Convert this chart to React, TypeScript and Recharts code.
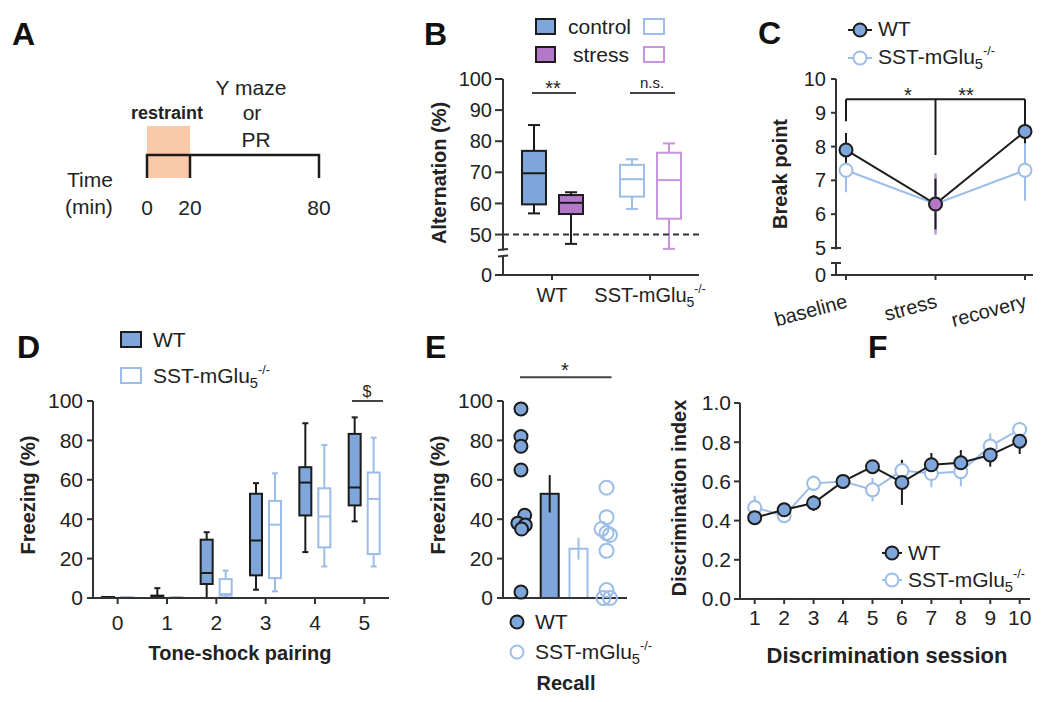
import React from 'react';
import {
  ComposedChart,
  LineChart,
  Line,
  Bar,
  Scatter,
  XAxis,
  YAxis,
  ReferenceLine,
  ReferenceArea,
  ErrorBar,
} from 'recharts';

const FONT = '"Liberation Sans", Arial, Helvetica, sans-serif';
const TEXT = '#222';
const AXIS = '#333';
const DARK = '#1c1c1c';
const BLUE = '#7ea6da';
const LIGHT = '#9cbde8';
const PURPLE = '#b478c8';
const LPURPLE = '#c994db';
const ORANGE = '#f9c9a8';

// A: protocol timeline (min)
const timeTicks = [0, 20, 80];
const restraint = [0, 20];
const TIMELINE_LEVEL = 0.44;

// B: Y maze alternation (%), box stats [min, q1, median, q3, max]
const genotypes = ['WT', 'SST'];
const altControl = [
  [56.8, 59.7, 69.7, 76.9, 85.2],
  [58.2, 62.2, 67.8, 72.4, 74.2],
];
const altStress = [
  [47.0, 56.6, 60.2, 62.7, 63.6],
  [45.4, 55.1, 67.5, 76.3, 79.3],
];
const altTicks = [37, 50, 60, 70, 80, 90, 100];

// C: PR break point
const conditions = ['baseline', 'stress', 'recovery'];
const bpWT = [7.9, 6.3, 8.45];
const bpWTErr = [0.5, 0.75, 0.35];
const bpSST = [7.3, 6.3, 7.3];
const bpSSTErr = [0.65, 0.9, 0.9];
const bpTicks = [4.2, 5, 6, 7, 8, 9, 10];

// D: freezing per tone-shock pairing, box stats
const pairings = ['0', '1', '2', '3', '4', '5'];
const frzWT = [
  [0, 0, 0.2, 0.5, 0.5],
  [0, 0, 0.6, 1.2, 5],
  [0, 7.1, 12.7, 29.6, 33.4],
  [4.2, 11.5, 29.2, 52.9, 58.3],
  [23.3, 41.9, 58.6, 66.4, 88.7],
  [38.9, 47.0, 56.1, 83.3, 91.7],
];
const frzSST = [
  [0, 0, 0.2, 0.4, 0.4],
  [0, 0, 0.2, 0.4, 0.4],
  [0, 1.2, 2.0, 9.6, 13.9],
  [3.4, 10.1, 37.2, 49.3, 63.3],
  [16.0, 25.7, 41.4, 55.7, 77.7],
  [16.0, 22.3, 50.3, 63.7, 81.4],
];
const pctTicks = [0, 20, 40, 60, 80, 100];

// E: recall freezing, individual animals + mean/sem
const recallWT = [96, 82, 77, 65, 42, 38, 37, 35, 3];
const recallWTx = [0.58, 0.58, 0.58, 0.58, 0.7, 0.48, 0.72, 0.6, 0.58];
const recallSST = [56, 41, 35, 33, 32, 24, 4, 0, 0];
const recallSSTx = [3.34, 3.34, 3.18, 3.34, 3.45, 3.34, 3.34, 3.24, 3.45];
const recallGroups = ['WT', 'SST'];
const recallMeans = [52.9, 25.0];
const recallSem = [9.5, 5.5];
const recallBarX = [1.52, 2.45];

// F: discrimination index per session
const sessions = [1, 2, 3, 4, 5, 6, 7, 8, 9, 10];
const diWT = [0.415, 0.455, 0.49, 0.6, 0.675, 0.595, 0.685, 0.695, 0.735, 0.805];
const diWTErr = [0.015, 0.015, 0.04, 0.02, 0.015, 0.115, 0.06, 0.065, 0.06, 0.065];
const diSST = [0.467, 0.425, 0.59, 0.6, 0.557, 0.655, 0.64, 0.65, 0.78, 0.865];
const diSSTErr = [0.06, 0.015, 0.04, 0.03, 0.06, 0.04, 0.07, 0.075, 0.065, 0.015];
const diTicks = [0, 0.2, 0.4, 0.6, 0.8, 1.0];

// timeline bracket: a drop line at every time point, joined along the top
const timePath: { x: number; y: number }[] = [];
timeTicks.forEach((t, i) => {
  if (i > 0) timePath.push({ x: t, y: TIMELINE_LEVEL });
  timePath.push({ x: t, y: 0 });
  timePath.push({ x: t, y: TIMELINE_LEVEL });
});

const altData = genotypes.map((g, i) => ({ g, control: altControl[i], stress: altStress[i] }));
const bpData = conditions.map((c, i) => ({
  c,
  wt: bpWT[i],
  wtErr: bpWTErr[i],
  sst: bpSST[i],
  sstErr: bpSSTErr[i],
  sstStress: c === 'stress' ? bpSST[i] : null,
  sstStressErr: c === 'stress' ? bpSSTErr[i] : null,
}));
const frzData = pairings.map((p, i) => ({ g: p, wt: frzWT[i], sst: frzSST[i] }));
const recallBars = recallGroups.map((g, i) => ({ g, x: recallBarX[i], mean: recallMeans[i], sem: recallSem[i] }));
const recallWTPts = recallWT.map((y, i) => ({ x: recallWTx[i], y }));
const recallSSTPts = recallSST.map((y, i) => ({ x: recallSSTx[i], y }));
const diData = sessions.map((s, i) => ({ s, wt: diWT[i], wtErr: diWTErr[i], sst: diSST[i], sstErr: diSSTErr[i] }));

const axisLine = { stroke: AXIS, strokeWidth: 2 };

type BoxStyle = { fill: string; stroke: string };

// box & whisker drawn inside the [min, max] range bar
const makeBox = (key: string, styles: Record<string, BoxStyle>, capRatio: number) => (props: any) => {
  const { x, y, width, height, payload } = props;
  const s = payload[key] as number[];
  const st = styles[payload.g] || styles.default;
  const top = Math.min(y, y + height);
  const k = Math.abs(height) / (s[4] - s[0]);
  const py = (v: number) => top + (s[4] - v) * k;
  const cx = x + width / 2;
  const cw = (width * capRatio) / 2;
  return (
    <g>
      <line x1={cx} x2={cx} y1={py(s[4])} y2={py(s[0])} stroke={st.stroke} strokeWidth={2} />
      <line x1={cx - cw} x2={cx + cw} y1={py(s[4])} y2={py(s[4])} stroke={st.stroke} strokeWidth={2} />
      <line x1={cx - cw} x2={cx + cw} y1={py(s[0])} y2={py(s[0])} stroke={st.stroke} strokeWidth={2} />
      <rect x={x} y={py(s[3])} width={width} height={py(s[1]) - py(s[3])} fill={st.fill} stroke={st.stroke} strokeWidth={2} />
      <line x1={x} x2={x + width} y1={py(s[2])} y2={py(s[2])} stroke={st.stroke} strokeWidth={2} />
    </g>
  );
};

const Geno = ({ size }: { size: number }) => (
  <>
    SST-mGlu
    <tspan fontSize={size * 0.7} dy={size * 0.25}>5</tspan>
    <tspan fontSize={size * 0.6} dy={-size * 0.7}>-/-</tspan>
  </>
);

const GenoTick = (props: any) => {
  const { x, y, payload } = props;
  return (
    <text x={x} y={y} dy={15} textAnchor="middle" fill={TEXT} fontSize={20}>
      {payload.value === 'WT' ? 'WT' : <Geno size={20} />}
    </text>
  );
};

const RotTick = (props: any) => {
  const { x, y, payload } = props;
  return (
    <text x={x - 4} y={y} dy={25} textAnchor="end" fill={TEXT} fontSize={20} transform={`rotate(-15, ${x}, ${y})`}>
      {payload.value}
    </text>
  );
};

const WTDot = (props: any) => {
  const { cx, cy, payload } = props;
  return <circle cx={cx} cy={cy} r={6.5} fill={payload.c === 'stress' ? PURPLE : BLUE} stroke={DARK} strokeWidth={2} />;
};

const FilledDot = (p: any) => <circle cx={p.cx} cy={p.cy} r={6.5} fill={BLUE} stroke={DARK} strokeWidth={2} />;
const OpenDot = (p: any) => <circle cx={p.cx} cy={p.cy} r={7} fill="none" stroke={LIGHT} strokeWidth={2} />;

const MeanShape = (props: any) => {
  const { x, y, width, height, payload } = props;
  const wt = payload.g === 'WT';
  const k = height / payload.mean;
  const cx = x + width / 2;
  const col = wt ? DARK : LIGHT;
  return (
    <g>
      <rect x={x} y={y} width={width} height={height} fill={wt ? BLUE : '#fff'} stroke={col} strokeWidth={2} />
      <line x1={cx} x2={cx} y1={y - payload.sem * k} y2={y + payload.sem * k} stroke={col} strokeWidth={2} />
    </g>
  );
};

const PanelA = () => (
  <div style={{ position: 'absolute', left: 100, top: 100 }}>
    <ComposedChart width={260} height={130} data={timePath} margin={{ top: 26, right: 41, bottom: 12, left: 47 }}>
      <XAxis
        type="number"
        dataKey="x"
        domain={[0, 80]}
        ticks={timeTicks}
        axisLine={false}
        tickLine={false}
        tickSize={0}
        tickMargin={22}
        height={40}
        interval={0}
        tick={{ fill: TEXT, fontSize: 21 }}
      />
      <YAxis hide type="number" domain={[0, 1]} />
      <ReferenceArea x1={restraint[0]} x2={restraint[1]} y1={0} y2={1} fill={ORANGE} fillOpacity={1} stroke="none" />
      <Line
        dataKey="y"
        stroke={DARK}
        strokeWidth={2.5}
        strokeLinejoin="miter"
        dot={false}
        activeDot={false}
        isAnimationActive={false}
      />
    </ComposedChart>
  </div>
);

const PanelB = () => (
  <div style={{ position: 'absolute', left: 380, top: 0 }}>
    <ComposedChart width={330} height={320} data={altData} margin={{ top: 79, right: 11, bottom: 15, left: 0 }} barGap={13} barSize={24}>
      <XAxis dataKey="g" tick={<GenoTick />} tickSize={5} tickMargin={7} height={30} axisLine={axisLine} tickLine={axisLine} interval={0} />
      <YAxis
        type="number"
        domain={[37, 100]}
        ticks={altTicks}
        tickFormatter={(v) => (v === 37 ? '0' : String(v))}
        width={123}
        tickSize={8}
        tickMargin={3}
        axisLine={axisLine}
        tickLine={axisLine}
        interval={0}
        tick={{ fill: TEXT, fontSize: 20 }}
        allowDataOverflow
      />
      <ReferenceLine y={50} stroke={AXIS} strokeWidth={2} strokeDasharray="6 4" />
      <Bar
        dataKey={(d: any) => [d.control[0], d.control[4]]}
        isAnimationActive={false}
        shape={makeBox('control', { WT: { fill: BLUE, stroke: DARK }, SST: { fill: '#fff', stroke: LIGHT } }, 0.5)}
      />
      <Bar
        dataKey={(d: any) => [d.stress[0], d.stress[4]]}
        isAnimationActive={false}
        shape={makeBox('stress', { WT: { fill: PURPLE, stroke: DARK }, SST: { fill: '#fff', stroke: LPURPLE } }, 0.5)}
      />
    </ComposedChart>
  </div>
);

const PanelC = () => (
  <div style={{ position: 'absolute', left: 700, top: 0 }}>
    <LineChart width={350} height={330} data={bpData} margin={{ top: 79, right: 17, bottom: 10, left: 0 }}>
      <XAxis
        dataKey="c"
        padding={{ left: 10, right: 8 }}
        tick={<RotTick />}
        tickSize={5}
        tickMargin={2}
        height={45}
        axisLine={axisLine}
        tickLine={axisLine}
        interval={0}
      />
      <YAxis
        type="number"
        domain={[4.2, 10]}
        ticks={bpTicks}
        tickFormatter={(v) => (v === 4.2 ? '0' : String(v))}
        width={136}
        tickSize={5}
        tickMargin={5}
        axisLine={axisLine}
        tickLine={axisLine}
        interval={0}
        tick={{ fill: TEXT, fontSize: 20 }}
        allowDataOverflow
      />
      <ReferenceLine segment={[{ x: 'baseline', y: 9.4 }, { x: 'recovery', y: 9.4 }]} stroke={DARK} strokeWidth={2} />
      <ReferenceLine segment={[{ x: 'baseline', y: 9.4 }, { x: 'baseline', y: 8.75 }]} stroke={DARK} strokeWidth={2} />
      <ReferenceLine segment={[{ x: 'recovery', y: 9.4 }, { x: 'recovery', y: 8.75 }]} stroke={DARK} strokeWidth={2} />
      <ReferenceLine segment={[{ x: 'stress', y: 9.4 }, { x: 'stress', y: 7.75 }]} stroke={DARK} strokeWidth={2} />
      <Line
        dataKey="sst"
        stroke={LIGHT}
        strokeWidth={2}
        isAnimationActive={false}
        dot={{ r: 6.5, fill: '#fff', stroke: LIGHT, strokeWidth: 2 }}
        activeDot={false}
      >
        <ErrorBar dataKey="sstErr" width={0} stroke={LIGHT} strokeWidth={2} direction="y" />
      </Line>
      <Line dataKey="sstStress" stroke="none" dot={false} activeDot={false} isAnimationActive={false}>
        <ErrorBar dataKey="sstStressErr" width={0} stroke={LPURPLE} strokeWidth={2} direction="y" />
      </Line>
      <Line dataKey="wt" stroke={DARK} strokeWidth={2} isAnimationActive={false} dot={<WTDot />} activeDot={false}>
        <ErrorBar dataKey="wtErr" width={0} stroke={DARK} strokeWidth={2} direction="y" />
      </Line>
    </LineChart>
  </div>
);

const PanelD = () => (
  <div style={{ position: 'absolute', left: 0, top: 330 }}>
    <ComposedChart width={400} height={372} data={frzData} margin={{ top: 71, right: 11, bottom: 64, left: 0 }} barGap={7} barSize={12}>
      <XAxis dataKey="g" tickSize={6} tickMargin={11} height={40} axisLine={axisLine} tickLine={axisLine} interval={0} tick={{ fill: TEXT, fontSize: 21 }} />
      <YAxis
        type="number"
        domain={[0, 100]}
        ticks={pctTicks}
        width={93}
        tickSize={6}
        tickMargin={4}
        axisLine={axisLine}
        tickLine={axisLine}
        interval={0}
        tick={{ fill: TEXT, fontSize: 21 }}
      />
      <Bar
        dataKey={(d: any) => [d.wt[0], d.wt[4]]}
        isAnimationActive={false}
        shape={makeBox('wt', { default: { fill: BLUE, stroke: DARK } }, 0.5)}
      />
      <Bar
        dataKey={(d: any) => [d.sst[0], d.sst[4]]}
        isAnimationActive={false}
        shape={makeBox('sst', { default: { fill: '#fff', stroke: LIGHT } }, 0.5)}
      />
    </ComposedChart>
  </div>
);

const PanelE = () => (
  <div style={{ position: 'absolute', left: 400, top: 330 }}>
    <ComposedChart width={250} height={372} data={recallBars} margin={{ top: 71, right: 23, bottom: 94, left: 0 }}>
      <XAxis type="number" dataKey="x" domain={[0, 4]} tick={false} tickLine={false} axisLine={axisLine} height={10} />
      <XAxis xAxisId="pts" type="number" dataKey="x" domain={[0, 4]} hide />
      <YAxis
        type="number"
        domain={[0, 100]}
        ticks={pctTicks}
        width={103}
        tickSize={6}
        tickMargin={4}
        axisLine={axisLine}
        tickLine={axisLine}
        interval={0}
        tick={{ fill: TEXT, fontSize: 21 }}
      />
      <ReferenceLine segment={[{ x: 0.55, y: 112 }, { x: 3.5, y: 112 }]} stroke="#444" strokeWidth={2} ifOverflow="visible" />
      <Bar dataKey="mean" barSize={18} isAnimationActive={false} shape={MeanShape} />
      <Scatter xAxisId="pts" data={recallWTPts} dataKey="y" isAnimationActive={false} shape={FilledDot} />
      <Scatter xAxisId="pts" data={recallSSTPts} dataKey="y" isAnimationActive={false} shape={OpenDot} />
    </ComposedChart>
  </div>
);

const PanelF = () => (
  <div style={{ position: 'absolute', left: 650, top: 330 }}>
    <LineChart width={400} height={372} data={diData} margin={{ top: 73, right: 20, bottom: 63, left: 0 }}>
      <XAxis
        type="number"
        dataKey="s"
        domain={[0.5, 10.35]}
        ticks={sessions}
        tickSize={5}
        tickMargin={6}
        height={40}
        axisLine={axisLine}
        tickLine={axisLine}
        interval={0}
        tick={{ fill: TEXT, fontSize: 21 }}
      />
      <YAxis
        type="number"
        domain={[0, 1]}
        ticks={diTicks}
        tickFormatter={(v) => Number(v).toFixed(1)}
        width={90}
        tickSize={6}
        tickMargin={3}
        axisLine={axisLine}
        tickLine={axisLine}
        interval={0}
        tick={{ fill: TEXT, fontSize: 21 }}
      />
      <Line
        dataKey="sst"
        stroke={LIGHT}
        strokeWidth={2}
        isAnimationActive={false}
        dot={{ r: 6.5, fill: '#fff', stroke: LIGHT, strokeWidth: 2 }}
        activeDot={false}
      >
        <ErrorBar dataKey="sstErr" width={0} stroke={LIGHT} strokeWidth={2} direction="y" />
      </Line>
      <Line
        dataKey="wt"
        stroke={DARK}
        strokeWidth={2}
        isAnimationActive={false}
        dot={{ r: 6.5, fill: BLUE, stroke: DARK, strokeWidth: 2 }}
        activeDot={false}
      >
        <ErrorBar dataKey="wtErr" width={0} stroke={DARK} strokeWidth={2} direction="y" />
      </Line>
    </LineChart>
  </div>
);

const VTitle = ({ x, y, children, size = 20 }: { x: number; y: number; children: React.ReactNode; size?: number }) => (
  <text x={x} y={y} transform={`rotate(-90, ${x}, ${y})`} textAnchor="middle" fontSize={size} fontWeight="bold" fill={TEXT}>
    {children}
  </text>
);

const Overlay = () => (
  <svg width={1050} height={702} style={{ position: 'absolute', left: 0, top: 0, pointerEvents: 'none' }}>
    <g fontSize={32} fontWeight="bold" fill="#111">
      <text x={12} y={45}>A</text>
      <text x={424} y={45}>B</text>
      <text x={758} y={44}>C</text>
      <text x={17} y={358}>D</text>
      <text x={425} y={358}>E</text>
      <text x={868} y={358}>F</text>
    </g>

    {/* A */}
    <text x={167} y={119} textAnchor="middle" fontSize={18} fontWeight="bold" fill={TEXT}>restraint</text>
    <g fontSize={21} fill={TEXT} textAnchor="middle">
      <text x={251} y={95}>Y maze</text>
      <text x={252} y={120}>or</text>
      <text x={256} y={147}>PR</text>
    </g>
    <g fontSize={21} fill={TEXT}>
      <text x={67} y={187}>Time</text>
      <text x={65} y={214}>(min)</text>
    </g>

    {/* B */}
    <rect x={536} y={19} width={19} height={15} fill={BLUE} stroke={DARK} strokeWidth={2} />
    <rect x={644} y={19} width={20} height={15} fill="#fff" stroke={LIGHT} strokeWidth={2} />
    <rect x={536} y={47} width={19} height={15} fill={PURPLE} stroke={DARK} strokeWidth={2} />
    <rect x={644} y={47} width={20} height={15} fill="#fff" stroke={LPURPLE} strokeWidth={2} />
    <text x={568} y={34} fontSize={21} fill={TEXT}>control</text>
    <text x={573} y={62} fontSize={21} fill={TEXT}>stress</text>
    <VTitle x={446} y={173}>Alternation (%)</VTitle>
    <line x1={532} x2={576} y1={93} y2={93} stroke="#444" strokeWidth={2} />
    <text x={553} y={95} textAnchor="middle" fontSize={20} fill={TEXT}>**</text>
    <line x1={630} x2={675} y1={93} y2={93} stroke="#444" strokeWidth={2} />
    <text x={652} y={88} textAnchor="middle" fontSize={15} fill={TEXT}>n.s.</text>
    <rect x={499} y={250.5} width={9} height={5} fill="#fff" />
    <line x1={498} x2={508} y1={250} y2={249} stroke={AXIS} strokeWidth={2} />
    <line x1={498} x2={508} y1={256.5} y2={255.5} stroke={AXIS} strokeWidth={2} />

    {/* C */}
    <line x1={848} x2={872} y1={30} y2={30} stroke={DARK} strokeWidth={2} />
    <circle cx={860} cy={30} r={6.5} fill={BLUE} stroke={DARK} strokeWidth={2} />
    <text x={878} y={36} fontSize={21} fill={TEXT}>WT</text>
    <line x1={848} x2={872} y1={58} y2={58} stroke={LIGHT} strokeWidth={2} />
    <circle cx={860} cy={58} r={6.5} fill="#fff" stroke={LIGHT} strokeWidth={2} />
    <text x={878} y={64} fontSize={21} fill={TEXT}><Geno size={21} /></text>
    <VTitle x={787} y={174}>Break point</VTitle>
    <text x={908} y={102} textAnchor="middle" fontSize={20} fill={TEXT}>*</text>
    <text x={966} y={102} textAnchor="middle" fontSize={20} fill={TEXT}>**</text>
    <rect x={831} y={249.5} width={10} height={12.5} fill="#fff" />
    <line x1={831} x2={841} y1={248} y2={248} stroke={AXIS} strokeWidth={2} />
    <line x1={831} x2={841} y1={263} y2={263} stroke={AXIS} strokeWidth={2} />

    {/* D */}
    <rect x={121} y={332} width={20} height={15} fill={BLUE} stroke={DARK} strokeWidth={2} />
    <text x={153} y={347} fontSize={21} fill={TEXT}>WT</text>
    <rect x={121} y={368} width={20} height={15} fill="#fff" stroke={LIGHT} strokeWidth={2} />
    <text x={153} y={383} fontSize={21} fill={TEXT}><Geno size={21} /></text>
    <VTitle x={35} y={495}>Freezing (%)</VTitle>
    <text x={240} y={660} textAnchor="middle" fontSize={20} fontWeight="bold" fill={TEXT}>Tone-shock pairing</text>
    <line x1={352} x2={383} y1={401} y2={401} stroke="#444" strokeWidth={2} />
    <text x={367} y={397} textAnchor="middle" fontSize={16} fill={TEXT}>$</text>

    {/* E */}
    <VTitle x={445} y={495}>Freezing (%)</VTitle>
    <text x={565} y={377} textAnchor="middle" fontSize={20} fill={TEXT}>*</text>
    <circle cx={517} cy={622} r={6.5} fill={BLUE} stroke={DARK} strokeWidth={2} />
    <text x={535} y={629} fontSize={21} fill={TEXT}>WT</text>
    <circle cx={517} cy={652} r={6.5} fill="none" stroke={LIGHT} strokeWidth={2} />
    <text x={535} y={659} fontSize={21} fill={TEXT}><Geno size={21} /></text>
    <text x={566} y={690} textAnchor="middle" fontSize={20} fontWeight="bold" fill={TEXT}>Recall</text>

    {/* F */}
    <VTitle x={686} y={498}>Discrimination index</VTitle>
    <text x={887} y={663} textAnchor="middle" fontSize={22} fontWeight="bold" fill={TEXT}>Discrimination session</text>
    <line x1={882} x2={902} y1={553} y2={553} stroke={DARK} strokeWidth={2} />
    <circle cx={892} cy={553} r={6.5} fill={BLUE} stroke={DARK} strokeWidth={2} />
    <text x={908} y={560} fontSize={21} fill={TEXT}>WT</text>
    <line x1={882} x2={902} y1={580} y2={580} stroke={LIGHT} strokeWidth={2} />
    <circle cx={892} cy={580} r={6.5} fill="#fff" stroke={LIGHT} strokeWidth={2} />
    <text x={908} y={587} fontSize={21} fill={TEXT}><Geno size={21} /></text>
  </svg>
);

export default function App() {
  return (
    <div
      style={{
        position: 'absolute',
        left: 0,
        top: 0,
        width: 1050,
        height: 702,
        background: '#fff',
        fontFamily: FONT,
        overflow: 'hidden',
      }}
    >
      <PanelA />
      <PanelB />
      <PanelC />
      <PanelD />
      <PanelE />
      <PanelF />
      <Overlay />
    </div>
  );
}
